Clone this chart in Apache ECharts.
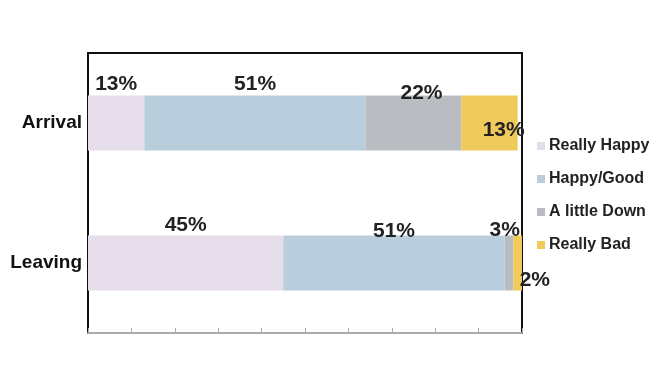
<!DOCTYPE html>
<html>
<head>
<meta charset="utf-8">
<script src="https://cdn.jsdelivr.net/npm/echarts@6/dist/echarts.min.js"></script>
<style>
  html, body { margin: 0; padding: 0; background: #fff; }
  #chart { width: 656px; height: 366px; }
</style>
</head>
<body>
<div id="chart"></div>
<script>
// data
const categories = ["Arrival", "Leaving"];
const reallyHappy = [13, 45];
const happyGood = [51, 51];
const littleDown = [22, 2];
const reallyBad = [13, 3];

const font = "'Liberation Sans', Arial, sans-serif";
const labelStyle = {
  show: true,
  formatter: "{c}%",
  fontFamily: font,
  fontWeight: "bold",
  fontSize: 21,
  color: "#222",
};

// per-bar label placements (style only)
const labelTweaks = {
  "Really Happy": [{ position: "top", distance: 1 }, { position: "top", distance: 0 }],
  "Happy/Good": [{ position: "top", distance: 1 }, { position: "top", distance: -6 }],
  "A little Down": [
    { position: "top", distance: -8, offset: [8, 0] },
    { position: [15, 34], align: "left", verticalAlign: "top" },
  ],
  "Really Bad": [
    { position: "insideRight", offset: [12, 7] },
    { position: "top", distance: -5, offset: [-13, 0] },
  ],
};

function makeSeries(name, values, color) {
  return {
    name: name,
    type: "bar",
    stack: "total",
    barWidth: 55,
    itemStyle: { color: color },
    label: labelStyle,
    data: values.map((v, i) => ({ value: v, label: labelTweaks[name][i] })),
  };
}

const chart = echarts.init(document.getElementById("chart"));
chart.setOption({
  animation: false,
  grid: {
    left: 88,
    right: 134,
    top: 53,
    bottom: 33,
    show: true,
    borderColor: "#111",
    borderWidth: 2,
  },
  legend: {
    orient: "vertical",
    left: 532,
    top: 133,
    itemGap: 17,
    itemWidth: 8,
    itemHeight: 8,
    icon: "rect",
    textStyle: { fontFamily: font, fontWeight: "bold", fontSize: 16, color: "#222", padding: [0, 0, 0, -1] },
  },
  xAxis: {
    type: "value",
    min: 0,
    max: 100,
    interval: 10,
    axisLine: { show: true, lineStyle: { color: "#aaa", width: 2 } },
    axisTick: { show: true, inside: true, length: 5, lineStyle: { color: "#aaa" } },
    axisLabel: { show: false },
    splitLine: { show: false },
  },
  yAxis: {
    type: "category",
    inverse: true,
    data: categories,
    axisLine: { show: true, lineStyle: { color: "#111", width: 2 } },
    axisTick: { show: false },
    axisLabel: {
      fontFamily: font,
      fontWeight: "bold",
      fontSize: 19,
      color: "#111",
      margin: 6,
    },
  },
  series: [
    makeSeries("Really Happy", reallyHappy, "#e6ddeb"),
    makeSeries("Happy/Good", happyGood, "#b9cedc"),
    makeSeries("A little Down", littleDown, "#b9bdc1"),
    makeSeries("Really Bad", reallyBad, "#f1ca5c"),
  ],
});
</script>
</body>
</html>
